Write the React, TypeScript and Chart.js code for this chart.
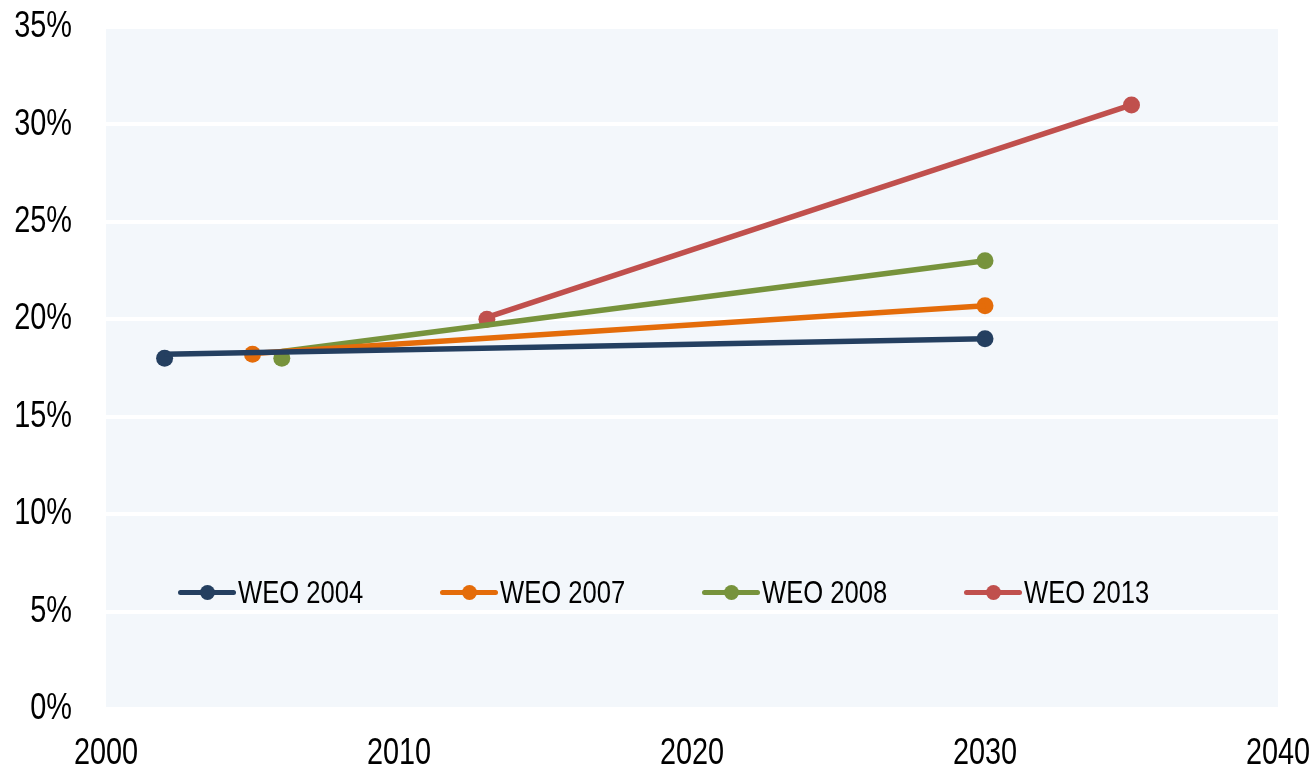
import React, { useEffect, useRef } from "react";
import { Chart, registerables } from "chart.js";

Chart.register(...registerables);

const seriesNames = ["WEO 2004", "WEO 2007", "WEO 2008", "WEO 2013"];
const seriesColors = ["#243F60", "#E46C0A", "#77933C", "#C0504D"];
// marker points (year, share %)
const startYears = [2002, 2005, 2006, 2013];
const startValues = [18.0, 18.2, 18.0, 20.0];
const endYears = [2030, 2030, 2030, 2035];
const endValues = [19.0, 20.7, 23.0, 31.0];
// the drawn line starts (slightly offset from the first marker in the source)
const lineStartValues = [18.2, 18.25, 18.35, 20.1];
const xTicks = [2000, 2010, 2020, 2030, 2040];
const yTicks = [0, 5, 10, 15, 20, 25, 30, 35];

const FONT = '"Liberation Sans", Arial, sans-serif';
const TICK_SIZE = 37;
const NARROW = 0.78;

const bgPlugin = {
  id: "plotBg",
  beforeDraw(chart: any) {
    const { ctx, chartArea } = chart;
    if (!chartArea) return;
    ctx.save();
    ctx.fillStyle = "#F3F7FB";
    ctx.fillRect(chartArea.left, chartArea.top, chartArea.right - chartArea.left, chartArea.bottom - chartArea.top);
    ctx.restore();
  },
};

// narrow (Arial Narrow-like) tick labels, positioned by the chart's own scales
const narrowTicksPlugin = {
  id: "narrowTicks",
  afterDraw(chart: any) {
    const { ctx, chartArea } = chart;
    const xs = chart.scales.x;
    const ys = chart.scales.y;
    ctx.save();
    ctx.fillStyle = "#000";
    ctx.font = `${TICK_SIZE}px ${FONT}`;
    ctx.textBaseline = "middle";
    ctx.textAlign = "center";
    xTicks.forEach((v) => {
      const px = xs.getPixelForValue(v);
      ctx.save();
      ctx.translate(px, chartArea.bottom + 45);
      ctx.scale(NARROW, 1);
      ctx.fillText(String(v), 0, 0);
      ctx.restore();
    });
    ctx.textAlign = "right";
    yTicks.forEach((v) => {
      const py = ys.getPixelForValue(v);
      ctx.save();
      ctx.translate(chartArea.left - 34, py);
      ctx.scale(NARROW, 1);
      ctx.fillText(v + "%", 0, 0);
      ctx.restore();
    });
    ctx.restore();
  },
};

export default function App() {
  const ref = useRef<HTMLCanvasElement>(null);
  useEffect(() => {
    document.body.style.margin = "0";
    const lineSets = seriesNames.map((name, i) => ({
      type: "line" as const,
      label: name + " line",
      data: [
        { x: startYears[i], y: lineStartValues[i] },
        { x: endYears[i], y: endValues[i] },
      ],
      borderColor: seriesColors[i],
      borderWidth: 5.5,
      pointRadius: 0,
      showLine: true,
      fill: false,
    }));
    const dotSets = seriesNames.map((name, i) => ({
      type: "scatter" as const,
      label: name,
      data: [
        { x: startYears[i], y: startValues[i] },
        { x: endYears[i], y: endValues[i] },
      ],
      backgroundColor: seriesColors[i],
      borderColor: seriesColors[i],
      borderWidth: 0,
      pointRadius: 8.5,
      showLine: false,
    }));
    const chart = new Chart(ref.current!, {
      type: "scatter",
      data: { datasets: [...lineSets, ...dotSets] as any },
      plugins: [bgPlugin, narrowTicksPlugin],
      options: {
        animation: false,
        responsive: false,
        layout: { padding: { top: 27, right: 36, left: 0, bottom: 0 } },
        plugins: { legend: { display: false }, tooltip: { enabled: false } },
        scales: {
          x: {
            type: "linear",
            min: xTicks[0],
            max: xTicks[xTicks.length - 1],
            afterBuildTicks: (s: any) => {
              s.ticks = xTicks.map((v) => ({ value: v }));
            },
            ticks: { display: false },
            grid: { display: false },
            border: { display: false },
            afterFit: (s: any) => {
              s.height = 63;
              s.paddingLeft = 0;
              s.paddingRight = 0;
              s.paddingTop = 0;
              s.paddingBottom = 0;
            },
          },
          y: {
            type: "linear",
            min: yTicks[0],
            max: yTicks[yTicks.length - 1],
            afterBuildTicks: (s: any) => {
              s.ticks = yTicks.map((v) => ({ value: v }));
            },
            ticks: { display: false },
            grid: { color: "#FFFFFF", lineWidth: 4, drawTicks: false },
            border: { display: false },
            afterFit: (s: any) => {
              s.width = 106;
              s.paddingLeft = 0;
              s.paddingRight = 0;
              s.paddingTop = 0;
              s.paddingBottom = 0;
            },
          },
        },
      },
    });
    return () => chart.destroy();
  }, []);

  return (
    <div style={{ position: "relative", width: 1314, height: 772 }}>
      <canvas ref={ref} width={1314} height={772} style={{ width: 1314, height: 772, display: "block" }} />
      {seriesNames.map((name, i) => (
        <div
          key={name}
          style={{
            position: "absolute",
            left: 178 + i * 262,
            top: 572,
            height: 40,
            display: "flex",
            alignItems: "center",
            fontFamily: FONT,
            fontSize: 32,
            color: "#000",
            whiteSpace: "nowrap",
          }}
        >
          <div style={{ position: "relative", width: 58, height: 16, marginRight: 2 }}>
            <div
              style={{
                position: "absolute",
                left: 0,
                right: 0,
                top: 5.5,
                height: 5.5,
                borderRadius: 3,
                background: seriesColors[i],
              }}
            />
            <div
              style={{
                position: "absolute",
                left: 22,
                top: 0.5,
                width: 15,
                height: 15,
                borderRadius: 8,
                background: seriesColors[i],
              }}
            />
          </div>
          <span style={{ display: "inline-block", transform: "scaleX(0.8)", transformOrigin: "left center" }}>
            {name}
          </span>
        </div>
      ))}
    </div>
  );
}
